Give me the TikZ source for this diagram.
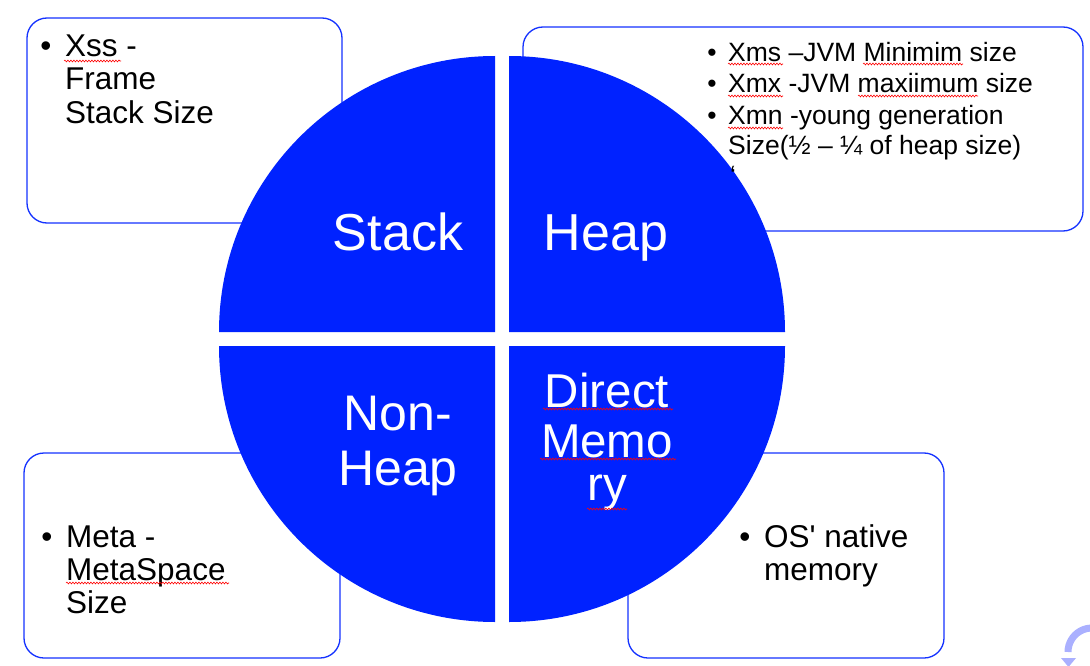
\documentclass[tikz,border=0pt]{standalone}
\usepackage{fontspec}
\setmainfont{Liberation Sans}[Ligatures=TeXOff]
\usetikzlibrary{decorations.pathmorphing}
\definecolor{quadblue}{RGB}{0,34,255}
\definecolor{lineblue}{RGB}{20,50,255}
\definecolor{iconblue}{RGB}{170,176,255}

\begin{document}
\begin{tikzpicture}[x=1pt,y=-1pt,
    panel/.style={draw=lineblue,line width=1.3pt,rounded corners=20pt,fill=white},
    quad/.style={fill=quadblue},
    txt/.style={anchor=base west,inner sep=0pt,font=\fontsize{31.5}{33}\selectfont},
    small/.style={anchor=base west,inner sep=0pt,font=\fontsize{26.5}{28}\selectfont},
    big/.style={anchor=base,inner sep=0pt,text=white,font=\fontsize{52}{55}\selectfont},
    spell/.style={draw=red,line width=0.6pt,decorate,
        decoration={snake,amplitude=0.9pt,segment length=3pt}}]
\useasboundingbox (0,0) rectangle (1090,666);

% Draw Boxes
\draw[panel] (27,18) rectangle (342,223);
\draw[panel] (523,27) rectangle (1083,231);
\draw[panel] (24,453) rectangle (340,658);
\draw[panel] (628,453) rectangle (944,658);

% Draw Quadrants
\foreach \dx/\dy/\a in {-7/-7/180, 7/-7/270, 7/7/0, -7/7/90}
    {
        \fill[quad] (502+\dx,339+\dy) -- +(\a:276) arc (\a:\a+90:276) -- cycle;
    }

% Quadrant labels
\node[big] (stack) at (398,250) {Stack};
\node[big] (heap) at (606,250) {Heap};
\node[big,font=\fontsize{50}{55}\selectfont] (non) at (398,430) {Non-};
\node[big,font=\fontsize{50}{55}\selectfont] (nonheap) at (398,485) {Heap};
\node[big,font=\fontsize{47.5}{50}\selectfont] (direct) at (607,407) {Direct};
\node[big,font=\fontsize{47.5}{50}\selectfont] (memo) at (607,457) {Memo};
\node[big,font=\fontsize{47.5}{50}\selectfont] (ry) at (607,500) {ry};

% Stack box
\node[txt,anchor=base] (b1) at (46,57) {•};
\node[txt] (xss) at (65,57) {Xss -};
\node[txt] (frame) at (65,90) {Frame};
\node[txt] (stacksize) at (65,124) {Stack Size};

% Heap box
\node[small,anchor=base] (b2) at (712,62) {•};
\node[small,anchor=base] (b3) at (712,93) {•};
\node[small,anchor=base] (b4) at (712,125) {•};
\node[small] (xms) at (728,62) {Xms –JVM Minimim size};
\node[small] (xmx) at (728,93) {Xmx -JVM maxiimum size};
\node[small] (xmn) at (728,125) {Xmn -young generation};
\node[small] (young) at (728,154) {Size(½ – ¼ of heap size)};
\node[small] (mark) at (730,184) {‘};

% Non-Heap box
\node[txt,anchor=base] (b5) at (47,547) {•};
\node[txt] (meta) at (66,547) {Meta -};
\node[txt] (metaspace) at (66,580) {MetaSpace};
\node[txt] (metasize) at (66,613) {Size};

% Direct Memory box
\node[txt,anchor=base] (b6) at (745,547) {•};
\node[txt] (os) at (764,547) {OS' native};
\node[txt] (mem) at (764,580) {memory};

% Spelling marks
\foreach \a/\b/\y in {64/121/61, 728/783/64, 863/963/64, 728/783/96, 858/978/96,
    728/783/128, 66/229/583, 543/673/409, 540/676/459, 587/627/509}
    {
        \draw[spell] (\a,\y) -- (\b,\y);
    }

% Corner icon
\draw[iconblue,line width=7pt] (1092,652) ++(180:24) arc (180:275:24);
\fill[iconblue] (1061,658) -- (1076,658) -- (1068.5,667) -- cycle;

\end{tikzpicture}
\end{document}
